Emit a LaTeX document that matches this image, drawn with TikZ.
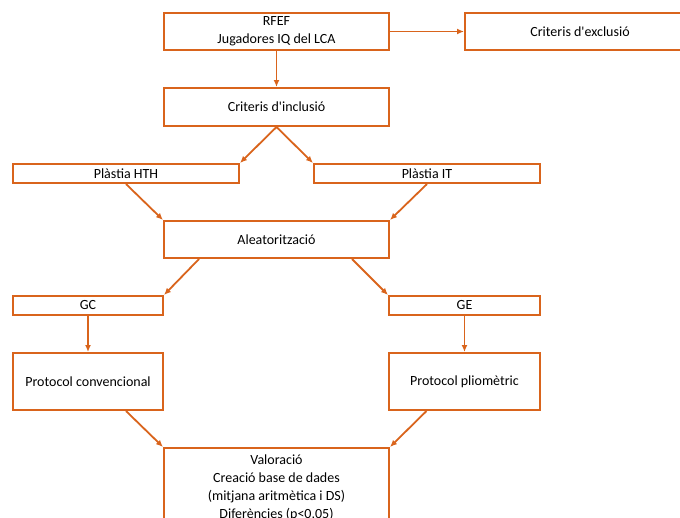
\documentclass[tikz,border=0pt]{standalone}
\usepackage{fontspec}
\setmainfont{Carlito}
\usetikzlibrary{arrows.meta,positioning}

\definecolor{taronja}{RGB}{217,100,28}

\tikzset{
  caixa/.style = {draw = taronja, line width = 2pt, shape = rectangle, inner sep = 0pt,
                  align = center, font = \fontsize{14}{18}\selectfont},
  fletxa/.style = {draw = taronja, line width = 1.8pt, -{Latex[length=7pt,width=6pt]}}
}

\begin{document}
\begin{tikzpicture}[x = 1pt, y = -1pt]
\clip (0,0) rectangle (680,517);
\node[caixa, minimum width = 225pt, minimum height = 37pt] (rfef) at (276.5,31.5) {RFEF\\Jugadores IQ del LCA};
\node[caixa, minimum width = 230pt, minimum height = 37pt] (excl) at (580,31.5) {Criteris d\textquotesingle exclusió};
\node[caixa, minimum width = 225pt, minimum height = 38pt] (incl) at (276.5,107) {Criteris d\textquotesingle inclusió};
\node[caixa, minimum width = 226pt, minimum height = 19pt] (hth) at (126,173.5) {Plàstia HTH};
\node[caixa, minimum width = 226pt, minimum height = 19pt] (it) at (427,173.5) {Plàstia IT};
\node[caixa, minimum width = 225pt, minimum height = 37pt] (alea) at (276.5,239.5) {Aleatorització};
\node[caixa, minimum width = 150pt, minimum height = 19pt] (gc) at (88,305.5) {GC};
\node[caixa, minimum width = 151pt, minimum height = 19pt] (ge) at (464.5,305.5) {GE};
\node[caixa, minimum width = 150pt, minimum height = 57pt] (conv) at (88,381.5) {Protocol convencional};
\node[caixa, minimum width = 151pt, minimum height = 57pt] (plio) at (464.5,381.5) {Protocol pliomètric};
\node[caixa, minimum width = 225pt, inner ysep = 7pt, anchor = north] (val) at (276.5,447)
  {Valoració\\Creació base de dades\\(mitjana aritmètica i DS)\\Diferències (p<0,05)};

% connectors
\draw[fletxa] (rfef.east) -- (excl.west);
\draw[fletxa] (rfef.south) -- (incl.north);
\draw[fletxa] (incl.south) -- (hth.north east);
\draw[fletxa] (incl.south) -- (it.north west);
\draw[fletxa] (hth.south) -- (alea.north west);
\draw[fletxa] (it.south) -- (alea.north east);
\draw[fletxa] ([xshift=36pt]alea.south west) -- (gc.north east);
\draw[fletxa] ([xshift=-38pt]alea.south east) -- (ge.north west);
\draw[fletxa] (gc.south) -- (conv.north);
\draw[fletxa] (ge.south) -- (plio.north);
\draw[fletxa] ([xshift=38pt]conv.south) -- (val.north west);
\draw[fletxa] ([xshift=-38pt]plio.south) -- (val.north east);
\end{tikzpicture}
\end{document}
